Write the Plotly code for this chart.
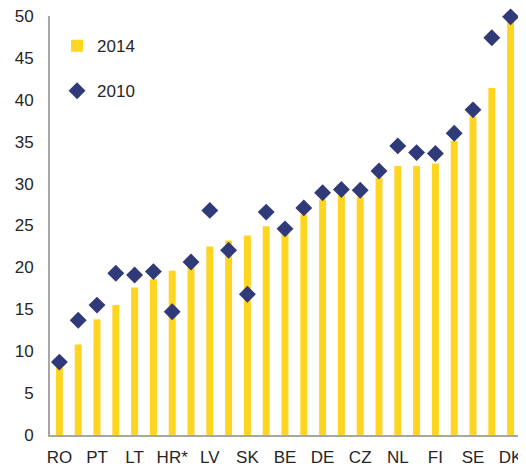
import plotly.graph_objects as go

countries = ["RO", "BG", "PT", "EL", "LT", "MT", "HR*", "HU", "LV", "PL",
             "SK", "SI", "BE", "IT", "DE", "ES", "CZ", "AT", "NL", "EE",
             "FI", "FR", "SE", "UK", "DK"]
tick_labels = ["RO", "PT", "LT", "HR*", "LV", "SK", "BE", "DE", "CZ", "NL", "FI", "SE", "DK"]
values_2014 = [8.4, 10.8, 13.8, 15.5, 17.6, 18.6, 19.6, 20.2, 22.5, 23.2,
               23.8, 24.9, 24.0, 26.3, 28.1, 28.6, 28.4, 30.7, 32.1, 32.1,
               32.4, 35.1, 38.0, 41.4, 49.3]
values_2010 = [8.7, 13.7, 15.5, 19.3, 19.1, 19.5, 14.7, 20.65, 26.8, 22.05,
               16.8, 26.6, 24.6, 27.1, 28.9, 29.3, 29.2, 31.5, 34.5, 33.7,
               33.6, 36.0, 38.8, 47.4, 49.9]

YELLOW = "#FFD520"
NAVY = "#313A78"
AXIS = "#A6A6A6"
FONT = "Arial, Liberation Sans, sans-serif"

fig = go.Figure()
fig.add_trace(go.Bar(x=countries, y=values_2014, name="2014",
                     marker=dict(color=YELLOW, line=dict(width=0)),
                     width=0.37, legendgroup="a"))
fig.add_trace(go.Scatter(x=countries, y=values_2010, name="2010", mode="markers",
                         marker=dict(symbol="diamond", size=13, color=NAVY),
                         legendgroup="b", cliponaxis=False))

# page body has an 8px margin, so the figure is sized to fit the window
fig.update_layout(
    width=518, height=458,
    margin=dict(l=42, r=6, t=8, b=31, autoexpand=False),
    paper_bgcolor="white", plot_bgcolor="white",
    font=dict(family=FONT, size=17, color="#262626"),
    showlegend=True,
    legend=dict(x=0.015, y=0.971, xanchor="left", yanchor="top",
                bgcolor="rgba(0,0,0,0)", tracegroupgap=20,
                font=dict(size=17), itemsizing="trace"),
    xaxis=dict(range=[-0.5, 24.5], showgrid=False, showline=True,
               linecolor=AXIS, linewidth=2, ticks="", automargin=False,
               tickmode="array", tickvals=countries[::2], ticktext=tick_labels,
               ticklabelstandoff=6, zeroline=False, ticklabeloverflow="allow"),
    yaxis=dict(range=[0, 50], dtick=5, showgrid=False, showline=True,
               linecolor=AXIS, linewidth=2, ticks="", automargin=False,
               ticklabelstandoff=11, zeroline=False, ticklabeloverflow="allow"),
)

fig.write_html("out.html")
